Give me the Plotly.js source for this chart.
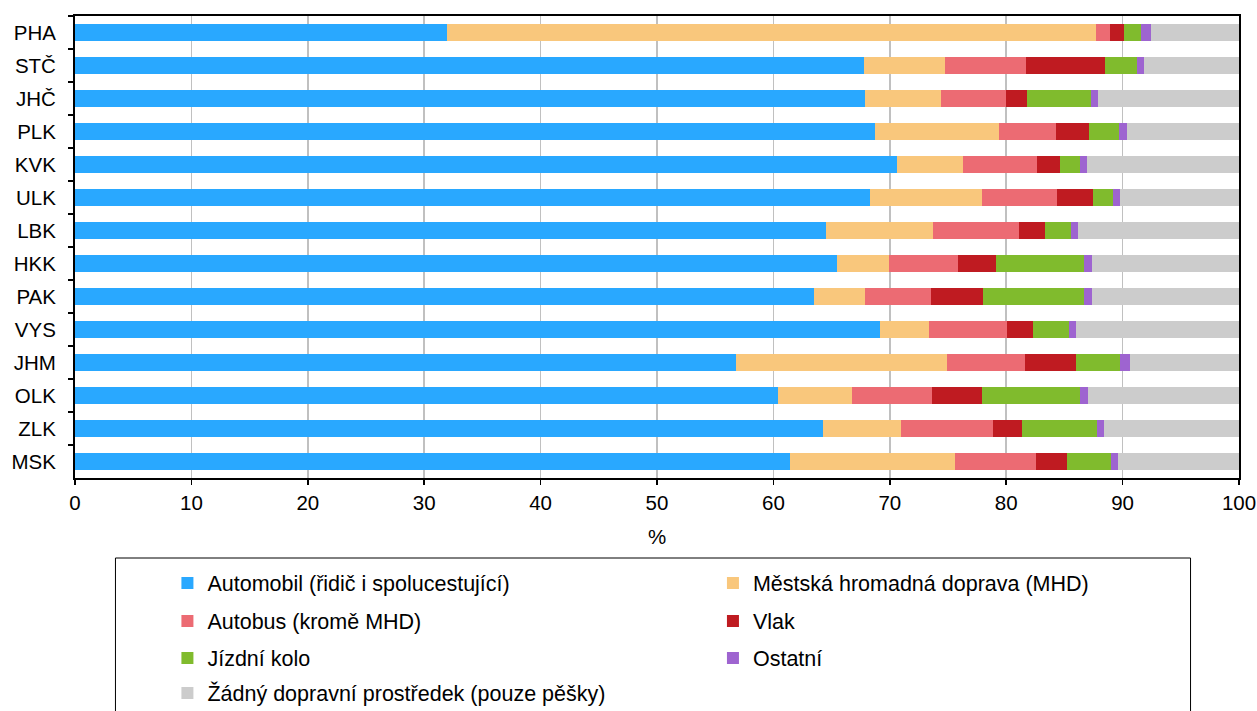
<!DOCTYPE html>
<html>
<head>
<meta charset="utf-8">
<script src="https://cdn.plot.ly/plotly-3.0.1.min.js"></script>
<style>html,body{margin:0;padding:0;background:#fff;}#chart{width:1257px;height:711px;}</style>
</head>
<body>
<div id="chart"></div>
<script>
const regions = ["PHA","STČ","JHČ","PLK","KVK","ULK","LBK","HKK","PAK","VYS","JHM","OLK","ZLK","MSK"];
const automobil = [32.0,67.8,67.9,68.7,70.6,68.3,64.5,65.5,63.5,69.2,56.75,60.4,64.3,61.4];
const mhd       = [55.7,6.95,6.5,10.65,5.7,9.6,9.25,4.45,4.4,4.2,18.2,6.35,6.65,14.2];
const autobus   = [1.2,6.95,5.6,4.95,6.35,6.5,7.35,5.95,5.65,6.7,6.65,6.85,7.9,7.0];
const vlak      = [1.2,6.8,1.8,2.8,1.95,3.05,2.2,3.2,4.45,2.2,4.4,4.3,2.5,2.6];
const kolo      = [1.5,2.7,5.45,2.6,1.7,1.75,2.3,7.6,8.65,3.1,3.8,8.4,6.45,3.8];
const ostatni   = [0.8,0.6,0.65,0.65,0.6,0.6,0.6,0.7,0.75,0.6,0.8,0.7,0.6,0.6];
const zadny     = [7.6,8.2,12.1,9.65,13.1,10.2,13.8,12.6,12.6,14.0,9.4,13.0,11.6,10.4];
const seriesNames = ["Automobil (řidič i spolucestující)","Městská hromadná doprava (MHD)","Autobus (kromě MHD)","Vlak","Jízdní kolo","Ostatní","Žádný dopravní prostředek (pouze pěšky)"];
const xTicks = [0,10,20,30,40,50,60,70,80,90,100];

const seriesData = [automobil,mhd,autobus,vlak,kolo,ostatni,zadny];
const colors = ["#29a8ff","#f9c77c","#ec6b73","#bf1b21","#80bb2d","#9e64d0","#cccccc"];
const legendIds = ["legend","legend2","legend3","legend4","legend5","legend6","legend7"];

const traces = seriesData.map((vals,i)=>({
  type:"bar", orientation:"h", name:seriesNames[i], x:vals, y:regions,
  marker:{color:colors[i], line:{width:0}}, legend:legendIds[i], hoverinfo:"x+y+name"
}));

const font = {family:"Liberation Sans, Arial, sans-serif", size:20.5, color:"#000"};
const legFont = {family:"Liberation Sans, Arial, sans-serif", size:21.5, color:"#000"};
const W=1257,H=711,L=74.5,R=17.5,T=16,B=233;
const pw=W-L-R, ph=H-T-B;
const px2x = p => (p-L)/pw;
const py2y = p => (H-B-p)/ph;

const colX = [167, 713];
const rowY = [583, 621, 658, 693];
const legendPos = [[0,0],[1,0],[0,1],[1,1],[0,2],[1,2],[0,3]];

const layout = {
  width:W, height:H,
  margin:{l:L,r:R,t:T,b:B,pad:0,autoexpand:false},
  paper_bgcolor:"#fff", plot_bgcolor:"#fff",
  font:font,
  barmode:"stack", bargap:0.5,
  xaxis:{range:[0,100], tickvals:xTicks, ticktext:xTicks.map(String), ticks:"outside", ticklen:5, tickwidth:1.5, tickcolor:"#000",
    showgrid:true, gridcolor:"#c0c0c0", gridwidth:1.5, zeroline:false,
    showline:true, linecolor:"#000", linewidth:2, mirror:true,
    title:{text:"%", font:font, standoff:17}, tickfont:font, fixedrange:true, automargin:false},
  yaxis:{autorange:"reversed", type:"category", ticks:"outside", ticklen:5, tickwidth:1.5, tickcolor:"#000", tickson:"boundaries",
    showgrid:false, showline:true, linecolor:"#000", linewidth:2, mirror:true, tickfont:font, ticklabelstandoff:13, fixedrange:true, automargin:false},
  shapes:[{type:"rect", xref:"paper", yref:"paper", x0:px2x(115), x1:px2x(1191), y0:py2y(558), y1:py2y(720),
    line:{color:"#000", width:1}, fillcolor:"rgba(0,0,0,0)"}],
  showlegend:true
};
legendIds.forEach((id,i)=>{
  const [c,r] = legendPos[i];
  layout[id] = {x:px2x(colX[c]), y:py2y(rowY[r]), xanchor:"left", yanchor:"middle", bgcolor:"rgba(0,0,0,0)", borderwidth:0,
    font:legFont, itemwidth:30, orientation:"v"};
});

Plotly.newPlot("chart", traces, layout, {displayModeBar:false, staticPlot:true});
</script>
</body>
</html>
